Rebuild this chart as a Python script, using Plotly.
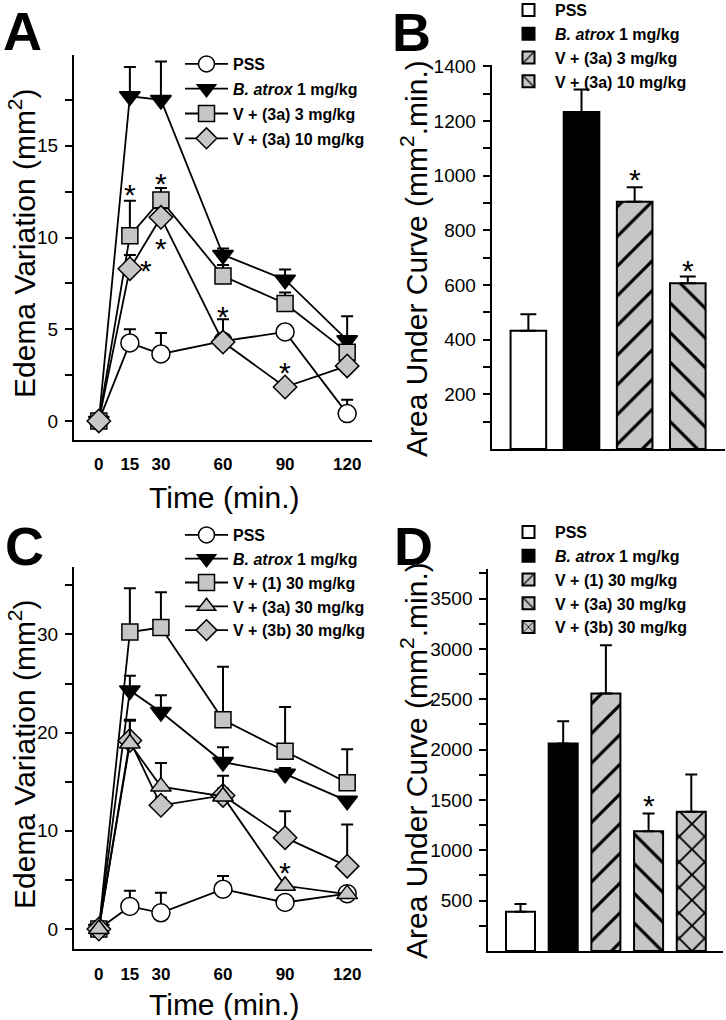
import plotly.graph_objects as go

FONT = "Liberation Sans, Arial, sans-serif"
W, H = 726, 1020

# ---------------- data ----------------
time_min = [0, 15, 30, 60, 90, 120]

# Panel A (edema variation, mm2)
a_pss = [0, 4.25, 3.65, 4.35, 4.85, 0.4]
a_pss_err = [0, 0.75, 1.15, 0.0, 0.1, 0.75]
a_batrox = [0, 17.7, 17.5, 9.05, 7.7, 4.4]
a_batrox_err = [0, 1.6, 2.1, 0.35, 0.55, 1.3]
a_3a_3 = [0, 10.1, 12.05, 7.9, 6.4, 3.75]
a_3a_3_err = [0, 1.9, 0.65, 0.6, 0.6, 0.3]
a_3a_10 = [0, 8.3, 11.1, 4.3, 1.85, 3.0]
a_3a_10_err = [0, 0.75, 0.5, 1.25, 0.0, 0.0]
a_star_x = [15, 30, 30, 23, 60, 90]
a_star_y = [12.7, 13.3, 9.8, 8.6, 6.1, 3.0]

# Panel B (AUC)
b_groups = ["PSS", "B. atrox 1 mg/kg", "V + (3a) 3 mg/kg", "V + (3a) 10 mg/kg"]
b_auc = [433, 1233, 905, 606]
b_auc_err = [60, 82, 53, 25]
b_star_idx = [2, 3]
b_star_y = [1010, 680]

# Panel C (edema variation, mm2)
c_pss = [0, 2.3, 1.65, 4.05, 2.7, 3.6]
c_pss_err = [0, 1.6, 2.05, 1.35, 0.0, 0.0]
c_batrox = [0, 24.3, 22.1, 17.0, 15.8, 13.05]
c_batrox_err = [0, 1.5, 1.7, 1.5, 0.6, 0.0]
c_1_30 = [0, 30.25, 30.7, 21.3, 18.1, 14.9]
c_1_30_err = [0, 4.45, 3.6, 5.4, 4.5, 3.4]
c_3a_30 = [0, 18.9, 14.5, 13.5, 4.4, 3.55]
c_3a_30_err = [0, 2.4, 2.4, 2.1, 0.0, 0.0]
c_3b_30 = [0, 19.2, 12.6, 13.6, 9.3, 6.4]
c_3b_30_err = [0, 2.0, 0.8, 0.7, 2.7, 4.25]
c_star_x = [90]
c_star_y = [6.5]

# Panel D (AUC)
d_groups = ["PSS", "B. atrox 1 mg/kg", "V + (1) 30 mg/kg", "V + (3a) 30 mg/kg", "V + (3b) 30 mg/kg"]
d_auc = [390, 2060, 2556, 1190, 1382]
d_auc_err = [76, 222, 480, 176, 371]
d_star_idx = [3]
d_star_y = [1518]

# ---------------- helpers ----------------
GRAY = "#c6c6c6"


def lab(name):
    if name.startswith("B. atrox"):
        return "<b><i>B. atrox</i>" + name[len("B. atrox"):] + "</b>"
    return "<b>" + name + "</b>"


def line_trace(y, err, name, symbol, fill, size, xa, ya, legend, rank):
    return go.Scatter(
        x=time_min, y=y, name=lab(name), mode="lines+markers",
        xaxis=xa, yaxis=ya, legend=legend, legendgroup=legend + name, legendrank=rank,
        line=dict(color="black", width=1.8),
        marker=dict(symbol=symbol, size=size, color=fill, line=dict(color="black", width=1.5)),
        error_y=dict(type="data", symmetric=False, array=err, arrayminus=[0] * len(err),
                     color="black", thickness=2, width=6),
        cliponaxis=False,
    )


PAT_SIZE = {"/": 21, "\\": 21, "x": 18}
PAT_SOLID = {"/": 0.15, "\\": 0.15, "x": 0.2}


def bar_trace(i, val, err, name, fill, shape, xa, ya, legend, width, capw):
    pat = None
    if shape:
        pat = dict(shape=shape, fgcolor="black", fgopacity=1, bgcolor=fill, size=PAT_SIZE[shape],
                   solidity=PAT_SOLID[shape], fillmode="overlay")
    return go.Bar(
        x=[i], y=[val], name=lab(name), xaxis=xa, yaxis=ya, legend=legend,
        legendgroup=legend + name, width=width,
        marker=dict(color=fill, line=dict(color="black", width=2), pattern=pat),
        error_y=dict(type="data", symmetric=False, array=[err], arrayminus=[0],
                     color="black", thickness=2, width=capw),
    )


fig = go.Figure()

# Panel A
fig.add_trace(line_trace(a_pss, a_pss_err, "PSS", "circle", "white", 18, "x", "y", "legend", 1))
fig.add_trace(line_trace(a_batrox, a_batrox_err, "B. atrox 1 mg/kg", "triangle-down", "black", 18, "x", "y", "legend", 2))
fig.add_trace(line_trace(a_3a_3, a_3a_3_err, "V + (3a) 3 mg/kg", "square", GRAY, 16, "x", "y", "legend", 3))
fig.add_trace(line_trace(a_3a_10, a_3a_10_err, "V + (3a) 10 mg/kg", "diamond", GRAY, 18, "x", "y", "legend", 4))

# Panel B
b_fill = ["white", "black", GRAY, GRAY]
b_shape = [None, None, "/", "\\"]
for i in range(len(b_groups)):
    fig.add_trace(bar_trace(i, b_auc[i], b_auc_err[i], b_groups[i], b_fill[i], b_shape[i],
                            "x2", "y2", "legend2", 0.67, 8))

# Panel C
fig.add_trace(line_trace(c_pss, c_pss_err, "PSS", "circle", "white", 18, "x3", "y3", "legend3", 1))
fig.add_trace(line_trace(c_batrox, c_batrox_err, "B. atrox 1 mg/kg", "triangle-down", "black", 18, "x3", "y3", "legend3", 2))
fig.add_trace(line_trace(c_1_30, c_1_30_err, "V + (1) 30 mg/kg", "square", GRAY, 16, "x3", "y3", "legend3", 3))
fig.add_trace(line_trace(c_3b_30, c_3b_30_err, "V + (3b) 30 mg/kg", "diamond", GRAY, 18, "x3", "y3", "legend3", 5))
fig.add_trace(line_trace(c_3a_30, c_3a_30_err, "V + (3a) 30 mg/kg", "triangle-up", GRAY, 18, "x3", "y3", "legend3", 4))

# Panel D
d_fill = ["white", "black", GRAY, GRAY, GRAY]
d_shape = [None, None, "/", "\\", "x"]
for i in range(len(d_groups)):
    fig.add_trace(bar_trace(i, d_auc[i], d_auc_err[i], d_groups[i], d_fill[i], d_shape[i],
                            "x4", "y4", "legend4", 0.68, 6))

# ---------------- axes ----------------
def px_x(a, b):
    return [a / W, b / W]


def px_y(top, bottom):
    return [1 - bottom / H, 1 - top / H]


axis_common = dict(showline=True, linecolor="black", linewidth=2, showgrid=False, zeroline=False,
                   mirror=False, automargin=False)

tick_font = dict(family=FONT, size=19, color="black")
xtick_font = dict(family=FONT, size=17, color="black", weight="bold")

def yax(domain, rng, major, minor, anchor):
    return dict(**axis_common, domain=domain, range=rng, anchor=anchor,
                tickmode="array", tickvals=major, ticks="outside", ticklen=7, tickwidth=2,
                tickcolor="black", tickfont=tick_font, ticklabelstandoff=3,
                minor=dict(tickmode="array", tickvals=minor, ticks="outside", ticklen=7,
                           tickwidth=2, tickcolor="black", showgrid=False))

def xax_time(domain, anchor):
    return dict(**axis_common, domain=domain, range=[-12, 132], anchor=anchor,
                tickmode="array", tickvals=time_min, ticks="", tickfont=xtick_font,
                ticklabelstandoff=8)

def xax_bar(domain, rng, anchor):
    return dict(**axis_common, domain=domain, range=rng, anchor=anchor,
                showticklabels=False, ticks="")

fig.update_layout(
    xaxis=xax_time(px_x(74, 372), "y"),
    yaxis=yax(px_y(55, 440), [-1.04, 19.95], [0, 5, 10, 15], [2.5, 7.5, 12.5, 17.5], "x"),
    xaxis2=xax_bar(px_x(491.7, 725), [-0.69, 3.7], "y2"),
    yaxis2=yax(px_y(65, 449), [0, 1405], [200, 400, 600, 800, 1000, 1200, 1400],
               [100, 300, 500, 700, 900, 1100, 1300], "x2"),
    xaxis3=xax_time(px_x(74, 372), "y3"),
    yaxis3=yax(px_y(566.7, 949.3), [-2.07, 36.9], [0, 10, 20, 30], [5, 15, 25, 35], "x3"),
    xaxis4=xax_bar(px_x(488.3, 723.3), [-0.754, 4.75], "y4"),
    yaxis4=yax(px_y(569.3, 951), [0, 3790], [500, 1000, 1500, 2000, 2500, 3000, 3500],
               [250, 750, 1250, 1750, 2250, 2750, 3250, 3750], "x4"),
)

# ---------------- legends ----------------
def leg(x, y, gap):
    return dict(x=x / W, y=1 - y / H, xanchor="left", yanchor="top", xref="paper", yref="paper",
                bgcolor="rgba(0,0,0,0)", borderwidth=0, itemwidth=43, tracegroupgap=gap,
                font=dict(family=FONT, size=16, color="black"), itemsizing="trace",
                itemclick=False, itemdoubleclick=False)

fig.update_layout(
    legend=leg(180, 47, 1),
    legend2=leg(502, -7, 0),
    legend3=leg(180, 518, 0),
    legend4=leg(502, 515, 0),
)

# ---------------- annotations ----------------
ann = []

def title(text, x, y, angle):
    ann.append(dict(text=text, x=x / W, y=1 - y / H, xref="paper", yref="paper", showarrow=False,
                    textangle=angle, xanchor="center", yanchor="middle",
                    font=dict(family=FONT, size=30, color="black")))

title("Edema Variation (mm<sup>2</sup>)", 22, 243, -90)
title("Time (min.)", 224, 497, 0)
title("Area Under Curve (mm<sup>2</sup>.min.)", 414, 259, -90)
title("Edema Variation (mm<sup>2</sup>)", 22, 754, -90)
title("Time (min.)", 224, 1004, 0)
title("Area Under Curve (mm<sup>2</sup>.min.)", 414, 761, -90)

for letter, x, y in [("A", 22, 31), ("B", 412, 32), ("C", 24, 546), ("D", 413, 546)]:
    ann.append(dict(text="<b>" + letter + "</b>", x=x / W, y=1 - y / H, xref="paper", yref="paper",
                    showarrow=False, xanchor="center", yanchor="middle",
                    font=dict(family=FONT, size=54, color="black")))

def star(xa, ya, x, y):
    ann.append(dict(text="*", x=x, y=y, xref=xa, yref=ya, showarrow=False,
                    xanchor="center", yanchor="middle", yshift=-7,
                    font=dict(family=FONT, size=30, color="black")))

for x, y in zip(a_star_x, a_star_y):
    star("x", "y", x, y)
for i, y in zip(b_star_idx, b_star_y):
    star("x2", "y2", i, y)
for x, y in zip(c_star_x, c_star_y):
    star("x3", "y3", x, y)
for i, y in zip(d_star_idx, d_star_y):
    star("x4", "y4", i, y)

fig.update_layout(
    annotations=ann,
    width=W, height=H, margin=dict(l=0, r=0, t=0, b=0, pad=0, autoexpand=False),
    paper_bgcolor="white", plot_bgcolor="white",
    barmode="overlay", showlegend=True,
    font=dict(family=FONT, color="black"),
)

fig.write_html("out.html", config={"displayModeBar": False},
               post_script="document.body.style.margin='0px';")
